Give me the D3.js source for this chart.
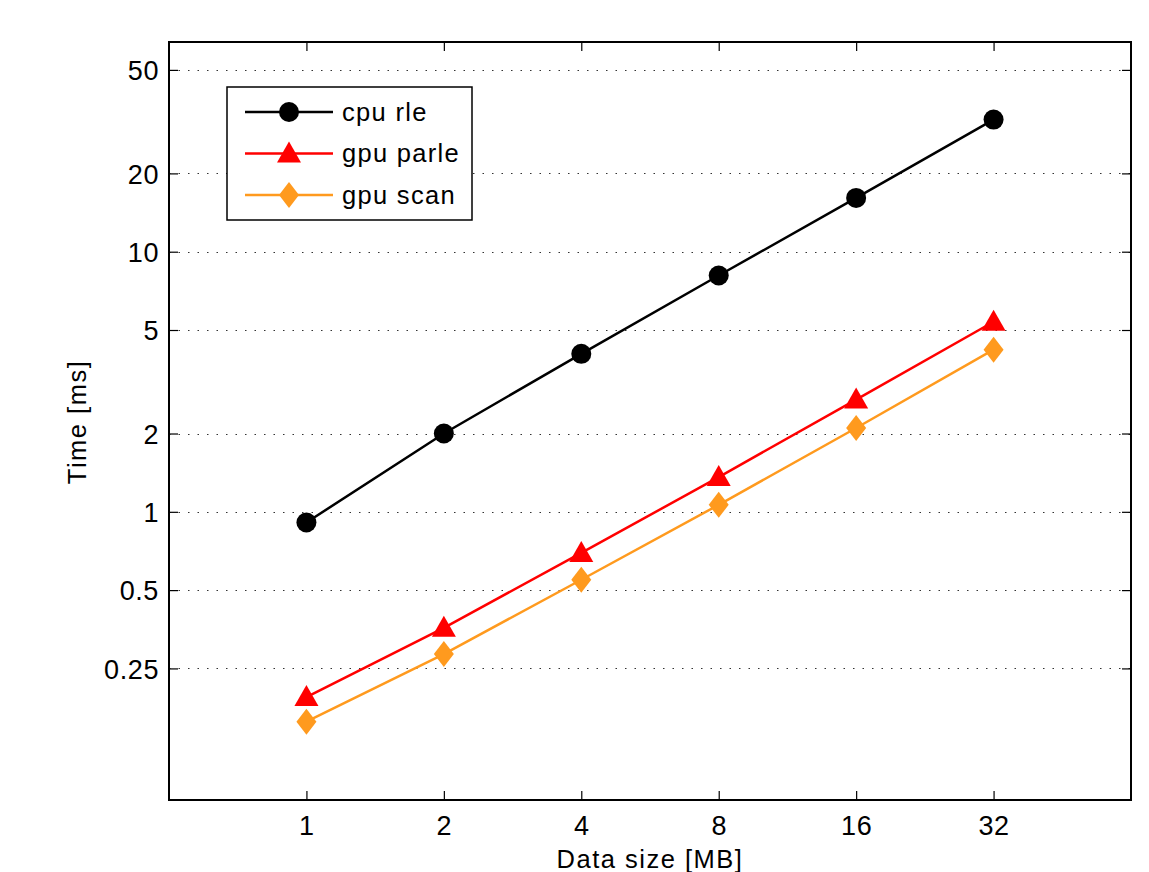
<!DOCTYPE html>
<html lang="en">
<head>
    <meta charset="UTF-8">
    <title>Time vs data size</title>
    <script src="https://d3js.org/d3.v7.min.js"></script>
    <style>
        body { margin: 0; background: #fff; }
        svg { display: block; font-family: "Liberation Sans", Arial, sans-serif; }
        .tick-label { font-size: 27px; letter-spacing: 0.6px; fill: #000; }
        .axis-title { font-size: 25.5px; letter-spacing: 1.5px; fill: #000; }
        .legend-text { font-size: 25.5px; letter-spacing: 1.3px; fill: #000; }
    </style>
</head>
<body>
    <div class="LogChart"></div>

    <script>
        // data
        const sizes = [1, 2, 4, 8, 16, 32];
        const cpuRle = [0.91, 2.0, 4.05, 8.1, 16.1, 32.2];
        const gpuParle = [0.194, 0.358, 0.695, 1.36, 2.70, 5.38];
        const gpuScan = [0.156, 0.284, 0.548, 1.064, 2.10, 4.20];
        const xTicks = [1, 2, 4, 8, 16, 32];
        const yTicks = [0.25, 0.5, 1, 2, 5, 10, 20, 50];
        const seriesNames = ['cpu rle', 'gpu parle', 'gpu scan'];

        const series = [
            { name: seriesNames[0], values: cpuRle, color: '#000000', marker: 'circle' },
            { name: seriesNames[1], values: gpuParle, color: '#ff0000', marker: 'triangle' },
            { name: seriesNames[2], values: gpuScan, color: '#ff9a1e', marker: 'diamond' }
        ];

        const svgWidth = 1149;
        const svgHeight = 872;
        const margin = { top: 42, right: 18, bottom: 72, left: 169 };
        const width = svgWidth - margin.left - margin.right;
        const height = svgHeight - margin.top - margin.bottom;

        const svg = d3.select('.LogChart')
            .append('svg')
            .attr('width', svgWidth)
            .attr('height', svgHeight);

        const g = svg.append('g')
            .attr('transform', `translate(${margin.left},${margin.top})`);

        // scales
        const xScale = d3.scaleLog().base(2)
            .domain([0.5, 64])
            .range([0, width]);

        const yScale = d3.scaleLog()
            .domain([0.078, 64])
            .range([height, 0]);

        // dotted grid
        g.append('g')
            .selectAll('line')
            .data(yTicks)
            .enter().append('line')
            .attr('x1', 0)
            .attr('x2', width)
            .attr('y1', d => Math.round(yScale(d)) + 0.5)
            .attr('y2', d => Math.round(yScale(d)) + 0.5)
            .attr('stroke', '#333')
            .attr('stroke-width', 1)
            .attr('stroke-dasharray', '1.5,8');

        // axes (ticks inward, mirrored on top/right)
        const tickLen = 9;
        const fmtY = d => String(d);

        const bottomAxis = g.append('g')
            .attr('transform', `translate(0,${height})`)
            .call(d3.axisBottom(xScale).tickValues(xTicks).tickFormat(d3.format('d'))
                .tickSizeInner(-tickLen).tickSizeOuter(0).tickPadding(16));
        const topAxis = g.append('g')
            .call(d3.axisTop(xScale).tickValues(xTicks).tickFormat('')
                .tickSizeInner(-tickLen).tickSizeOuter(0));
        const leftAxis = g.append('g')
            .call(d3.axisLeft(yScale).tickValues(yTicks).tickFormat(fmtY)
                .tickSizeInner(-tickLen).tickSizeOuter(0).tickPadding(10));
        const rightAxis = g.append('g')
            .attr('transform', `translate(${width},0)`)
            .call(d3.axisRight(yScale).tickValues(yTicks).tickFormat('')
                .tickSizeInner(-tickLen).tickSizeOuter(0));

        [bottomAxis, topAxis, leftAxis, rightAxis].forEach(ax => {
            ax.select('.domain').remove();
            ax.selectAll('line').attr('stroke', '#000').attr('stroke-width', 1.2);
            ax.selectAll('text').attr('class', 'tick-label')
                .attr('font-family', null).attr('font-size', null);
        });
        leftAxis.selectAll('text').attr('dy', '0.36em');

        // box
        g.append('rect')
            .attr('x', 0).attr('y', 0)
            .attr('width', width).attr('height', height)
            .attr('fill', 'none')
            .attr('stroke', '#000')
            .attr('stroke-width', 2);

        // markers
        function drawMarker(sel, type, color) {
            if (type === 'circle') {
                sel.append('circle').attr('r', 10).attr('fill', color);
            } else if (type === 'triangle') {
                sel.append('path').attr('d', 'M0,-12 L12,9 L-12,9 Z').attr('fill', color);
            } else {
                sel.append('path').attr('d', 'M0,-13 L10,0 L0,13 L-10,0 Z').attr('fill', color);
            }
        }

        const line = d3.line()
            .x((d, i) => xScale(sizes[i]))
            .y(d => yScale(d));

        series.forEach(s => {
            g.append('path')
                .datum(s.values)
                .attr('fill', 'none')
                .attr('stroke', s.color)
                .attr('stroke-width', 2.5)
                .attr('d', line);
            g.selectAll(null)
                .data(s.values)
                .enter().append('g')
                .attr('transform', (d, i) => `translate(${xScale(sizes[i])},${yScale(d)})`)
                .each(function () { drawMarker(d3.select(this), s.marker, s.color); });
        });

        // axis titles
        g.append('text')
            .attr('class', 'axis-title')
            .attr('x', width / 2)
            .attr('y', height + 68)
            .attr('text-anchor', 'middle')
            .text('Data size [MB]');

        g.append('text')
            .attr('class', 'axis-title')
            .attr('transform', `translate(${-83},${380}) rotate(-90)`)
            .attr('text-anchor', 'middle')
            .text('Time [ms]');

        // legend
        const legend = g.append('g').attr('transform', 'translate(58,45)');
        legend.append('rect')
            .attr('width', 245).attr('height', 133)
            .attr('fill', '#fff')
            .attr('stroke', '#000')
            .attr('stroke-width', 1.5);
        series.forEach((s, i) => {
            const row = legend.append('g').attr('transform', `translate(0,${25 + i * 41.5})`);
            row.append('line')
                .attr('x1', 18).attr('x2', 106)
                .attr('stroke', s.color).attr('stroke-width', 2.5);
            drawMarker(row.append('g').attr('transform', 'translate(62,0)'), s.marker, s.color);
            row.append('text')
                .attr('class', 'legend-text')
                .attr('x', 115)
                .attr('dy', '0.35em')
                .text(s.name);
        });
    </script>
</body>
</html>
